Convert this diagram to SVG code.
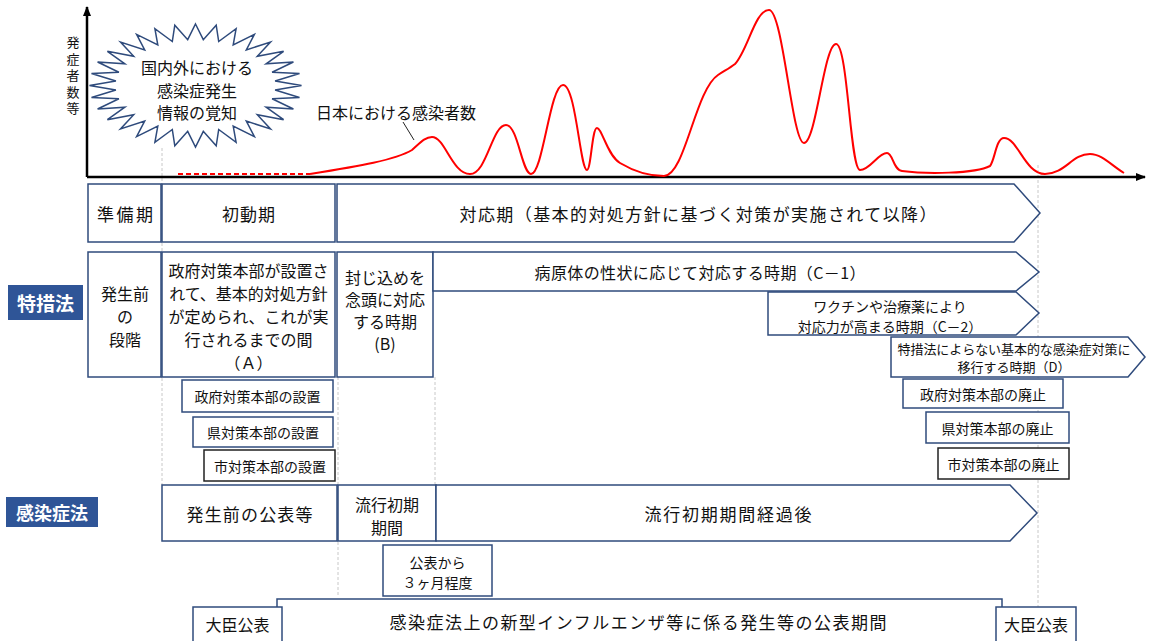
<svg xmlns="http://www.w3.org/2000/svg" width="1155" height="641" viewBox="0 0 1155 641">
<style>
.box{fill:#fff;stroke:#2F4B7C;stroke-width:1.5}
.boxk{fill:#fff;stroke:#222;stroke-width:1.5}
.t{font-family:"Noto Sans CJK JP","Noto Sans CJK SC",sans-serif;fill:#111;text-anchor:middle;dominant-baseline:central}
.f13{font-size:13px}.f14{font-size:14px}.f16{font-size:16px}.f17{font-size:17px}
.lab{fill:#2F5597}
.lt{fill:#fff;font-weight:bold}
.grid{stroke:#C8C8C8;stroke-width:1;stroke-dasharray:3 2;fill:none}
.axis{stroke:#000;stroke-width:2.5;fill:none}
.red{stroke:#FF0000;stroke-width:2;fill:none}
</style>
<defs>
<marker id="arr" markerWidth="10" markerHeight="8" refX="9" refY="4" orient="auto" markerUnits="userSpaceOnUse">
<path d="M0,0 L10,4 L0,8 Z" fill="#000"/>
</marker>
</defs>
<rect width="1155" height="641" fill="#fff"/>

<g id="gridlines">
<line class="grid" x1="162" y1="148" x2="162" y2="485"/>
<line class="grid" x1="338" y1="377" x2="338" y2="596"/>
<line class="grid" x1="435" y1="377" x2="435" y2="485"/>
<line class="grid" x1="1038" y1="165" x2="1038" y2="641"/>
</g>

<g id="chart">
<line class="axis" x1="87" y1="177" x2="87" y2="7" marker-end="url(#arr)"/>
<line class="axis" x1="87" y1="177" x2="1145" y2="177" marker-end="url(#arr)"/>
<text class="t f13" x="73" y="77" style="writing-mode:vertical-rl;letter-spacing:3.5px">発症者数等</text>
<line x1="178" y1="174" x2="310" y2="174" stroke="#FF0000" stroke-width="2" stroke-dasharray="5 3"/>
<path class="red" d="M310,174 C360,166 395,160 412,150 C420,143 425,137 432,137 C445,137 452,174 470,174 C487,174 492,125 506,125 C518,125 522,174 531,174 C543,174 550,85 563,85 C576,85 580,170 587,170 C591,170 592,128 597,128 C602,128 607,155 620,163 C635,172 650,176 664,176 C685,176 695,90 718,75 C724,71 730,68 735,64 C748,50 755,10 769,10 C783,10 792,143 804,143 C816,143 824,44 836,44 C848,44 850,170 860,170 C870,170 878,153 887,153 C893,153 893,170 902,171 C925,174 975,174 990,166 C995,160 996,138 1004,138 C1018,138 1025,174 1045,174 C1065,174 1072,154 1090,154 C1102,154 1112,166 1124,173"/>
<line x1="403" y1="122" x2="414" y2="140" stroke="#222" stroke-width="1"/>
<text class="t f16" x="396" y="112" textLength="160" lengthAdjust="spacingAndGlyphs">日本における感染者数</text>
</g>

<g id="burst">
<polygon fill="#fff" stroke="#2F4B7C" stroke-width="1.5" points="195.5,24 203.3,39.7 216.2,25.2 218.7,41.5 236.1,28.7 233.2,44.9 254.4,34.4 246.3,49.9 270.5,42 257.3,56.3 283.6,51.3 266.1,63.8 293.4,62 272.1,72.2 299.5,73.5 275.1,81 301.5,85.5 275.1,90 299.5,97.5 272.1,98.8 293.4,109 266.1,107.2 283.6,119.7 257.3,114.7 270.5,129 246.3,121.1 254.4,136.6 233.2,126.1 236.1,142.3 218.7,129.5 216.2,145.8 203.3,131.3 195.5,147 187.7,131.3 174.8,145.8 172.3,129.5 154.9,142.3 157.8,126.1 136.6,136.6 144.7,121.1 120.5,129 133.7,114.7 107.4,119.7 124.9,107.2 97.6,109 118.9,98.8 91.5,97.5 115.9,90 89.5,85.5 115.9,81 91.5,73.5 118.9,72.2 97.6,62 124.9,63.8 107.4,51.3 133.7,56.3 120.5,42 144.7,49.9 136.6,34.4 157.8,44.9 154.9,28.7 172.3,41.5 174.8,25.2 187.7,39.7"/>
<text class="t f16" x="197" y="67">国内外における</text>
<text class="t f16" x="197" y="90">感染症発生</text>
<text class="t f16" x="197" y="112">情報の覚知</text>
</g>

<g id="junbiki">
<rect class="box" x="88" y="184" width="73" height="58"/>
<text class="t f17" x="125" y="213" textLength="56" lengthAdjust="spacing">準備期</text>
</g>
<g id="shodoki">
<rect class="box" x="162" y="184" width="173" height="58"/>
<text class="t f17" x="248.5" y="213" textLength="53" lengthAdjust="spacing">初動期</text>
</g>
<g id="taioki">
<polygon class="box" points="337,184 1014,184 1040,213 1014,242 337,242"/>
<text class="t f17" x="698" y="213" textLength="477" lengthAdjust="spacing">対応期（基本的対処方針に基づく対策が実施されて以降）</text>
</g>

<g id="label-tokuso">
<rect class="lab" x="8" y="285" width="75" height="35"/>
<text class="t lt" x="45.5" y="302.5" style="font-size:19px">特措法</text>
</g>

<g id="hasseimae">
<rect class="box" x="88" y="252" width="73" height="125"/>
<text class="t f16" x="125" y="293">発生前</text>
<text class="t f16" x="125" y="316">の</text>
<text class="t f16" x="125" y="339">段階</text>
</g>
<g id="periodA">
<rect class="box" x="162" y="252" width="173" height="125"/>
<text class="t f16" x="248.5" y="270">政府対策本部が設置さ</text>
<text class="t f16" x="248.5" y="293">れて、基本的対処方針</text>
<text class="t f16" x="248.5" y="316">が定められ、これが実</text>
<text class="t f16" x="248.5" y="339">行されるまでの間</text>
<text class="t f16" x="248.5" y="362">（Ａ）</text>
</g>
<g id="periodB">
<rect class="box" x="337" y="252" width="96" height="125"/>
<text class="t f16" x="385" y="277">封じ込めを</text>
<text class="t f16" x="385" y="299">念頭に対応</text>
<text class="t f16" x="385" y="321">する時期</text>
<text class="t f16" x="385" y="343">(B)</text>
</g>
<g id="periodC1">
<polygon class="box" points="433,252 1016,252 1039,272 1016,291 433,291"/>
<text class="t f16" x="700" y="272" textLength="331" lengthAdjust="spacing">病原体の性状に応じて対応する時期（C－1）</text>
</g>
<g id="periodC2">
<polygon class="box" points="768,292 1016,292 1039,313 1016,335 768,335"/>
<text class="t f14" x="890" y="306">ワクチンや治療薬により</text>
<text class="t f14" x="890" y="326">対応力が高まる時期（C－2）</text>
</g>
<g id="periodD">
<polygon class="box" points="891,337 1128,337 1145,357 1128,377 891,377"/>
<text class="t f13" x="1014" y="348" textLength="233" lengthAdjust="spacing">特措法によらない基本的な感染症対策に</text>
<text class="t f13" x="1014" y="366">移行する時期（D）</text>
</g>

<g id="setchi-gov">
<rect class="box" x="182" y="380" width="151" height="32"/>
<text class="t f14" x="257.5" y="396">政府対策本部の設置</text>
</g>
<g id="setchi-pref">
<rect class="box" x="193" y="417" width="140" height="30"/>
<text class="t f14" x="263" y="432">県対策本部の設置</text>
</g>
<g id="setchi-city">
<rect class="boxk" x="204" y="450" width="131" height="31"/>
<text class="t f14" x="270" y="466">市対策本部の設置</text>
</g>
<g id="haishi-gov">
<rect class="box" x="903" y="379" width="160" height="29"/>
<text class="t f14" x="983" y="394">政府対策本部の廃止</text>
</g>
<g id="haishi-pref">
<rect class="box" x="926" y="412" width="143" height="31"/>
<text class="t f14" x="997.5" y="428">県対策本部の廃止</text>
</g>
<g id="haishi-city">
<rect class="boxk" x="938" y="448" width="131" height="31"/>
<text class="t f14" x="1003.5" y="464">市対策本部の廃止</text>
</g>

<g id="label-kansen">
<rect class="lab" x="6" y="497" width="92" height="30"/>
<text class="t lt" x="52" y="512" style="font-size:18px">感染症法</text>
</g>
<g id="kohyo-mae">
<rect class="box" x="162" y="485" width="175" height="56"/>
<text class="t f17" x="249.5" y="513" textLength="126" lengthAdjust="spacing">発生前の公表等</text>
</g>
<g id="ryuko-shoki">
<rect class="box" x="338" y="485" width="98" height="56"/>
<text class="t f16" x="387" y="504">流行初期</text>
<text class="t f16" x="387" y="527">期間</text>
</g>
<g id="ryuko-go">
<polygon class="box" points="436,485 1010,485 1037,513 1010,541 436,541"/>
<text class="t f17" x="728" y="513" textLength="167" lengthAdjust="spacing">流行初期期間経過後</text>
</g>
<g id="sankagetsu">
<rect class="box" x="383" y="545" width="109" height="51"/>
<text class="t f14" x="437.5" y="562">公表から</text>
<text class="t f14" x="437.5" y="582">３ヶ月程度</text>
</g>
<g id="kohyo-kikan">
<rect class="box" x="277" y="599" width="725" height="60"/>
<text class="t f17" x="638" y="621" textLength="497" lengthAdjust="spacing">感染症法上の新型インフルエンザ等に係る発生等の公表期間</text>
</g>
<g id="daijin-start">
<rect class="box" x="193" y="607" width="89" height="45"/>
<text class="t f16" x="237.5" y="624">大臣公表</text>
</g>
<g id="daijin-end">
<rect class="box" x="996" y="607" width="80" height="45"/>
<text class="t f16" x="1036" y="624">大臣公表</text>
</g>
</svg>
